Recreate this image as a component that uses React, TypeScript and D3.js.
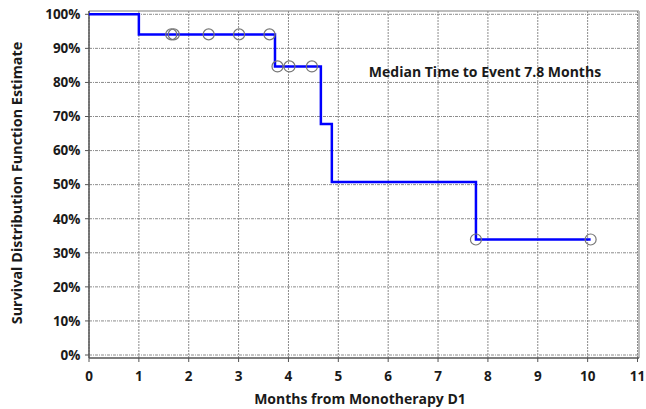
import React from "react";
import * as d3 from "d3";

// Kaplan-Meier step points: time (months) and survival estimate after each step
const stepTimes = [0, 1.0, 3.73, 4.65, 4.87, 7.76, 10.06];
const stepSurvival = [1.0, 0.941, 0.847, 0.678, 0.508, 0.339, 0.339];

// Censored observations
const censorTimes = [1.65, 1.7, 2.4, 3.01, 3.62, 3.78, 4.02, 4.47, 7.76, 10.06];
const censorSurvival = [0.941, 0.941, 0.941, 0.941, 0.941, 0.847, 0.847, 0.847, 0.339, 0.339];

const xTicks = [0, 1, 2, 3, 4, 5, 6, 7, 8, 9, 10, 11];
const yTicks = [0, 0.1, 0.2, 0.3, 0.4, 0.5, 0.6, 0.7, 0.8, 0.9, 1.0];

const annotation = "Median Time to Event 7.8 Months";
const xTitle = "Months from Monotherapy D1";
const yTitle = "Survival Distribution Function Estimate";

const W = 646;
const H = 409;
const FONT = "'Open Sans', 'DejaVu Sans', sans-serif";

export default function App() {
  const x = d3.scaleLinear().domain([0, 11]).range([89, 637.5]);
  const y = d3.scaleLinear().domain([0, 1]).range([355, 14.3]);

  const left = 89;
  const right = 639;
  const top = 11;
  const bottom = 358;

  const pts: [number, number][] = stepTimes.map((t, i) => [t, stepSurvival[i]]);
  const line = d3
    .line<[number, number]>()
    .x((d) => x(d[0]))
    .y((d) => y(d[1]))
    .curve(d3.curveStepAfter);

  return (
    <svg
      width={W}
      height={H}
      style={{ position: "absolute", left: 0, top: 0, background: "#fff" }}
      fontFamily={FONT}
    >
      {/* frame: light top/right borders */}
      <line x1={left} x2={right} y1={top} y2={top} stroke="#bdbdbd" strokeWidth={2} />
      <line x1={right} x2={right} y1={top} y2={bottom} stroke="#bdbdbd" strokeWidth={2} />

      {/* grid */}
      {xTicks.map((t) => (
        <line
          key={"gx" + t}
          x1={x(t)}
          x2={x(t)}
          y1={top}
          y2={bottom}
          stroke="#8c8c8c"
          strokeWidth={1}
          strokeDasharray="2,1"
        />
      ))}
      {yTicks.map((t) => (
        <line
          key={"gy" + t}
          x1={left}
          x2={right}
          y1={y(t)}
          y2={y(t)}
          stroke="#8c8c8c"
          strokeWidth={1}
          strokeDasharray="3,1,1,1"
        />
      ))}

      {/* axes */}
      <line x1={left} x2={left} y1={top} y2={bottom} stroke="#555" strokeWidth={1.5} />
      <line x1={left} x2={right} y1={bottom} y2={bottom} stroke="#555" strokeWidth={1.5} />
      {xTicks.map((t) => (
        <g key={"xt" + t}>
          <line x1={x(t)} x2={x(t)} y1={bottom} y2={bottom + 4} stroke="#555" strokeWidth={1} />
          <text
            x={x(t)}
            y={381}
            textAnchor="middle"
            fontSize={13.5}
            fontWeight={700}
            fill="#1a1a1a"
          >
            {t}
          </text>
        </g>
      ))}
      {yTicks.map((t) => (
        <g key={"yt" + t}>
          <line x1={left - 4} x2={left} y1={y(t)} y2={y(t)} stroke="#555" strokeWidth={1} />
          <text
            x={80.5}
            y={y(t) + 4.8}
            textAnchor="end"
            fontSize={13.5}
            fontWeight={700}
            fill="#1a1a1a"
          >
            {d3.format(".0%")(t)}
          </text>
        </g>
      ))}

      {/* survival curve */}
      <path d={line(pts) || ""} fill="none" stroke="#0000ff" strokeWidth={2.5} />

      {/* censor marks */}
      {censorTimes.map((t, i) => (
        <circle
          key={"c" + i}
          cx={x(t)}
          cy={y(censorSurvival[i])}
          r={5.5}
          fill="none"
          stroke="#777"
          strokeWidth={1.2}
        />
      ))}

      {/* annotation */}
      <text x={485} y={77} textAnchor="middle" fontSize={14} fontWeight={700} fill="#1a1a1a">
        {annotation}
      </text>

      {/* axis titles */}
      <text x={360} y={404} textAnchor="middle" fontSize={14} fontWeight={700} fill="#1a1a1a">
        {xTitle}
      </text>
      <text
        transform={`translate(22,183) rotate(-90)`}
        textAnchor="middle"
        fontSize={14.4}
        fontWeight={700}
        fill="#1a1a1a"
      >
        {yTitle}
      </text>
    </svg>
  );
}
